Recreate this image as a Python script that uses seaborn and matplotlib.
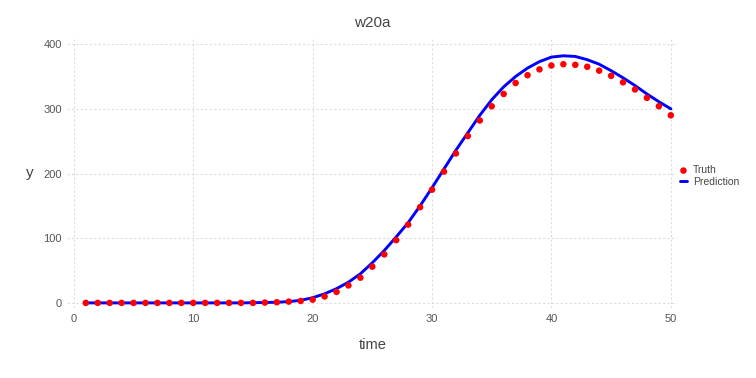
import numpy as np
import pandas as pd
import seaborn as sns
import matplotlib.pyplot as plt

# ==========================================
# DATA
# ==========================================
time = list(range(1, 51))

truth = [0, 0, 0, 0, 0, 0, 0, 0, 0, 0,
         0, 0, 0, 0, 0, 0.5, 1, 2, 3, 5,
         10, 17, 27, 39, 56, 75, 97, 121, 148, 175,
         203, 231, 258, 282, 304, 323, 340, 352, 361, 367,
         369, 368, 365, 359, 351, 341, 330, 317, 304, 290]

prediction = [0, 0, 0, 0, 0, 0, 0, 0, 0, 0,
              0, 0, 0, 0, 0.3, 0.6, 1, 2, 4, 8,
              14, 22, 32, 45, 62, 81, 102, 124, 150, 178,
              207, 236, 263, 290, 314, 334, 350, 363, 373, 380,
              382, 381, 376, 369, 359, 348, 336, 323, 311, 300]

title = "w20a"

df = pd.DataFrame({"time": time, "Truth": truth, "Prediction": prediction})

# ==========================================
# STYLE
# ==========================================
sns.set_theme(style="whitegrid")
plt.rcParams["font.family"] = ["Liberation Sans", "DejaVu Sans"]

fig = plt.figure(figsize=(7.56, 3.78), dpi=100)
ax = fig.add_axes([0.089, 0.185, 0.807, 0.717])

sns.scatterplot(data=df, x="time", y="Truth", ax=ax, color="red",
                s=22, edgecolor="none", label="Truth", zorder=3)
sns.lineplot(data=df, x="time", y="Prediction", ax=ax, color="blue",
             linewidth=2.1, label="Prediction", zorder=2)

ax.set_xlim(-0.55, 50.55)
ax.set_ylim(-8, 411)
ax.set_xticks([0, 10, 20, 30, 40, 50])
ax.set_yticks([0, 100, 200, 300, 400])

ax.grid(True, linestyle=(0, (2, 2)), color="#dcdce4", linewidth=0.8)
for s in ax.spines.values():
    s.set_visible(False)
ax.tick_params(axis="both", length=0, labelsize=8, labelcolor="#555555", pad=4)

ax.set_title(title, fontsize=11, color="#444444", pad=7)
ax.set_xlabel("time", fontsize=10.5, color="#444444", labelpad=10)
ax.set_ylabel("y", fontsize=11, color="#444444", rotation=0, labelpad=10, va="center")

leg = ax.legend(loc="center left", bbox_to_anchor=(0.998, 0.487), frameon=False,
                fontsize=7.5, handlelength=0.6, handletextpad=0.6,
                labelspacing=0.15, borderaxespad=0)
for t in leg.get_texts():
    t.set_color("#444444")

fig.savefig("out.png", dpi=100, facecolor="white")
